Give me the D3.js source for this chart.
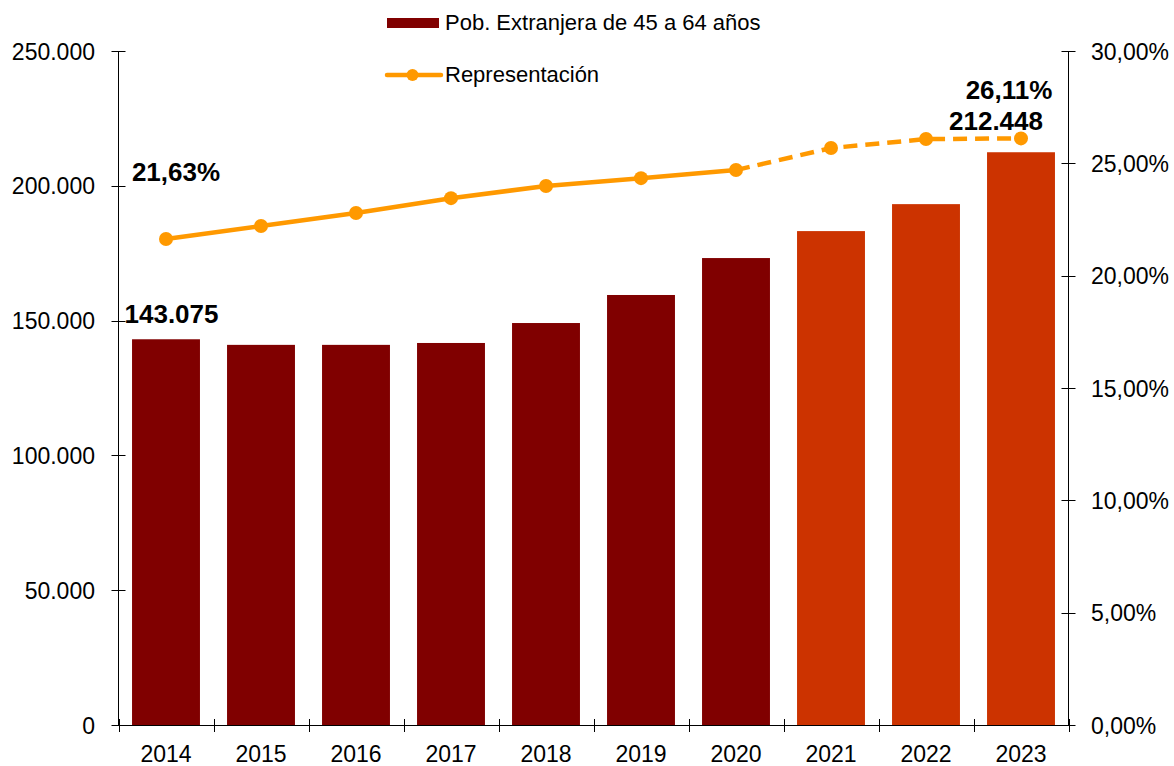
<!DOCTYPE html>
<html><head><meta charset="utf-8">
<script src="https://cdn.jsdelivr.net/npm/d3@7"></script>
<style>body{margin:0;background:#fff}svg{display:block;font-family:"Liberation Sans",Arial,sans-serif}</style>
</head><body><svg id="c" width="1174" height="766"></svg>
<script>
const years = ["2014","2015","2016","2017","2018","2019","2020","2021","2022","2023"];
const population = [143075,141000,141000,141700,149100,159500,173200,183200,193200,212448];
const representation = [21.63,22.21,22.79,23.45,23.99,24.34,24.70,25.68,26.08,26.11];
const leftTicks = [0,50000,100000,150000,200000,250000];
const rightTicks = [0,5,10,15,20,25,30];
const projectedFrom = "2020";

const svg = d3.select("#c");
const L = 118.5, R = 1068.5, T = 51, B = 725;
const x = d3.scaleBand().domain(years).range([L, R]).paddingInner(0.285).paddingOuter(0.1425);
const xb = d3.scaleBand().domain(years).range([L, R]);
const y = d3.scaleLinear().domain([0,250000]).range([B, T]);
const y2 = d3.scaleLinear().domain([0,30]).range([B, T]);
const fmtN = v => d3.format(",")(v).replace(/,/g, ".");
const fmtP = v => v.toFixed(2).replace(".", ",") + "%";
const idx0 = years.indexOf(projectedFrom);
const FS = 23;

// bars
svg.append("g").selectAll("rect").data(years).join("rect")
  .attr("x", d => x(d)).attr("width", x.bandwidth())
  .attr("y", (d,i) => y(population[i])).attr("height", (d,i) => B - y(population[i]))
  .attr("fill", (d,i) => i > idx0 ? "#CC3300" : "#800000");

// axes
const axCol = "#000";
const gl = svg.append("g");
gl.append("line").attr("x1",L).attr("x2",L).attr("y1",T).attr("y2",B).attr("stroke",axCol);
gl.selectAll("line.t").data(leftTicks).join("line").attr("class","t")
  .attr("x1",L-7).attr("x2",L+7).attr("y1",d=>Math.round(y(d))+0.5).attr("y2",d=>Math.round(y(d))+0.5).attr("stroke",axCol);
gl.selectAll("text").data(leftTicks).join("text")
  .attr("x",95).attr("y",d=>y(d)+8.5).attr("text-anchor","end").attr("font-size",FS).attr("fill","#000").text(fmtN);

const gr = svg.append("g");
gr.append("line").attr("x1",R).attr("x2",R).attr("y1",T).attr("y2",B).attr("stroke",axCol);
gr.selectAll("line.t").data(rightTicks).join("line").attr("class","t")
  .attr("x1",R-7).attr("x2",R+7).attr("y1",d=>Math.round(y2(d))+0.5).attr("y2",d=>Math.round(y2(d))+0.5).attr("stroke",axCol);
gr.selectAll("text").data(rightTicks).join("text")
  .attr("x",1091).attr("y",d=>y2(d)+8.5).attr("text-anchor","start").attr("font-size",FS).attr("fill","#000").text(d=>fmtP(d));

const gb = svg.append("g");
gb.append("line").attr("x1",L).attr("x2",R).attr("y1",B+0.5).attr("y2",B+0.5).attr("stroke",axCol);
const bticks = years.map(d => xb(d)).concat([R]);
gb.selectAll("line.t").data(bticks).join("line").attr("class","t")
  .attr("x1",d=>Math.round(d)+0.5).attr("x2",d=>Math.round(d)+0.5).attr("y1",B-6).attr("y2",B+7).attr("stroke",axCol);
gb.selectAll("text").data(years).join("text")
  .attr("x",d=>xb(d)+xb.bandwidth()/2).attr("y",762).attr("text-anchor","middle").attr("font-size",FS).attr("fill","#000").text(d=>d);

// line
const orange = "#FF9900";
const pts = years.map((d,i)=>[xb(d)+xb.bandwidth()/2, y2(representation[i])]);
const line = d3.line();
svg.append("path").attr("d", line(pts.slice(0, idx0+1))).attr("fill","none").attr("stroke",orange).attr("stroke-width",4.5);
svg.append("path").attr("d", line(pts.slice(idx0))).attr("fill","none").attr("stroke",orange).attr("stroke-width",4.5).attr("stroke-dasharray","14,8");
svg.append("g").selectAll("circle").data(pts).join("circle")
  .attr("cx",d=>d[0]).attr("cy",d=>d[1]).attr("r",7).attr("fill",orange);

// data labels
const lab = (t, xx, yy) => svg.append("text").attr("x",xx).attr("y",yy).attr("text-anchor","middle")
  .attr("font-size",26).attr("font-weight","bold").attr("fill","#000").text(t);
const last = years.length-1;
lab(fmtP(representation[0]), pts[0][0]+10, 181);
lab(fmtN(population[0]), pts[0][0]+5.5, 323);
lab(fmtP(representation[last]), pts[last][0]-12, 99);
lab(fmtN(population[last]), pts[last][0]-25, 130);

// legend
const lg = svg.append("g");
lg.append("rect").attr("x",387).attr("y",18).attr("width",52).attr("height",10).attr("fill","#800000");
lg.append("text").attr("x",445).attr("y",30).attr("font-size",22).attr("fill","#000").text("Pob. Extranjera de 45 a 64 años");
lg.append("line").attr("x1",387).attr("x2",441).attr("y1",75).attr("y2",75).attr("stroke",orange).attr("stroke-width",4.5).attr("stroke-linecap","round");
lg.append("circle").attr("cx",412.5).attr("cy",75).attr("r",6).attr("fill",orange);
lg.append("text").attr("x",445).attr("y",82).attr("font-size",22).attr("fill","#000").text("Representación");
</script></body></html>
